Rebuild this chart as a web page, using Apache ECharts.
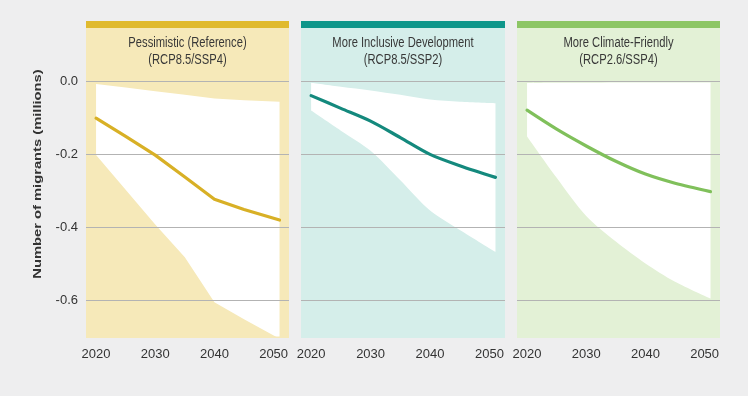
<!DOCTYPE html>
<html>
<head>
<meta charset="utf-8">
<script src="https://cdn.jsdelivr.net/npm/echarts@6/dist/echarts.min.js"></script>
<style>
  html, body { margin: 0; padding: 0; background: #eeeeef; }
  #chart { width: 748px; height: 396px; }
</style>
</head>
<body>
<div id="chart"></div>
<script>
// Projected change in number of migrants, three scenarios (millions)
const YEARS = [2020, 2025, 2030, 2035, 2040, 2045, 2051];
const X_TICKS = [2020, 2030, 2040, 2050];
const Y_TICKS = [0, -0.2, -0.4, -0.6];
const Y_TITLE = 'Number of migrants (millions)';

const PANEL_TITLES = ['Pessimistic (Reference)', 'More Inclusive Development', 'More Climate-Friendly'];
const PANEL_SUBTITLES = ['(RCP8.5/SSP4)', '(RCP8.5/SSP2)', '(RCP2.6/SSP4)'];

// central estimate and upper / lower bounds of the range
const PESSIMISTIC_MID   = [-0.102, -0.152, -0.203, -0.263, -0.324, -0.352, -0.381];
const PESSIMISTIC_HIGH  = [-0.008, -0.018, -0.028, -0.038, -0.048, -0.053, -0.057];
const PESSIMISTIC_LOW   = [-0.203, -0.298, -0.393, -0.483, -0.606, -0.653, -0.706];

const INCLUSIVE_MID     = [-0.040, -0.075, -0.110, -0.155, -0.201, -0.232, -0.264];
const INCLUSIVE_HIGH    = [-0.005, -0.016, -0.026, -0.038, -0.051, -0.057, -0.061];
const INCLUSIVE_LOW     = [-0.081, -0.136, -0.191, -0.272, -0.355, -0.408, -0.468];

const CLIMATE_MID       = [-0.080, -0.132, -0.178, -0.220, -0.255, -0.280, -0.303];
const CLIMATE_HIGH      = [-0.006, -0.005, -0.005, -0.004, -0.004, -0.004, -0.004];
const CLIMATE_LOW       = [-0.152, -0.265, -0.370, -0.440, -0.500, -0.550, -0.596];

const MIDS  = [PESSIMISTIC_MID, INCLUSIVE_MID, CLIMATE_MID];
const HIGHS = [PESSIMISTIC_HIGH, INCLUSIVE_HIGH, CLIMATE_HIGH];
const LOWS  = [PESSIMISTIC_LOW, INCLUSIVE_LOW, CLIMATE_LOW];

// styling per panel
const STYLES = [
  { bar: '#e0ba2e', line: '#d8b026', pale: '#f6e9b9', smooth: false },
  { bar: '#0f968a', line: '#14897d', pale: '#d5eeea', smooth: 0.3 },
  { bar: '#8dc665', line: '#80c05b', pale: '#e3f1d6', smooth: 0.3 }
];

// layout
const PANEL_LEFT = [86, 301, 517];
const PANEL_WIDTH = [203, 204, 203];
const BAR_TOP = 21, BAR_H = 7;
const PLOT_TOP = 81, PLOT_H = 255.5, PANEL_BOTTOM = 338;
const X_MIN = 2018.3, X_MAX = 2052.6;
const SANS = '"Liberation Sans", Arial, sans-serif';
const TEXT_DARK = '#333333';

const chart = echarts.init(document.getElementById('chart'), null, { renderer: 'canvas' });

const grids = [], xAxes = [], yAxes = [], series = [], graphics = [];

// condensed header text: regular face squeezed horizontally
function headerText(str, cx, cy) {
  return {
    type: 'text', silent: true, x: cx, y: cy, scaleX: 0.8,
    style: { text: str, fill: '#383838', font: '14px ' + SANS, align: 'center', verticalAlign: 'middle' }
  };
}

for (let i = 0; i < 3; i++) {
  const st = STYLES[i];
  const left = PANEL_LEFT[i], w = PANEL_WIDTH[i];

  // panel background and coloured header bar
  graphics.push({
    type: 'rect', z: -10, silent: true,
    shape: { x: left, y: BAR_TOP + BAR_H, width: w, height: PANEL_BOTTOM - BAR_TOP - BAR_H },
    style: { fill: st.pale }
  });
  graphics.push({
    type: 'rect', z: -9, silent: true,
    shape: { x: left, y: BAR_TOP, width: w, height: BAR_H },
    style: { fill: st.bar }
  });
  graphics.push(headerText(PANEL_TITLES[i], left + w / 2, 43.5));
  graphics.push(headerText(PANEL_SUBTITLES[i], left + w / 2, 60));

  grids.push({ left: left, width: w, top: PLOT_TOP, height: PLOT_H, containLabel: false });

  xAxes.push({
    type: 'value', gridIndex: i, min: X_MIN, max: X_MAX,
    axisLine: { show: false }, axisTick: { show: false }, splitLine: { show: false },
    axisLabel: {
      customValues: X_TICKS, margin: 11,
      color: TEXT_DARK, fontFamily: SANS, fontSize: 13,
      formatter: v => String(Math.round(v))
    }
  });

  yAxes.push({
    type: 'value', gridIndex: i, min: -0.7, max: 0,
    axisLine: { show: false }, axisTick: { show: false }, splitLine: { show: false },
    axisLabel: {
      show: i === 0, customValues: Y_TICKS, margin: 8,
      color: TEXT_DARK, fontFamily: SANS, fontSize: 13,
      formatter: v => v.toFixed(1)
    }
  });

  const low = LOWS[i], high = HIGHS[i];
  const stackId = 'range' + i;

  // range band: values come first in each row so the stack runs on the value dimension
  series.push({
    type: 'line', xAxisIndex: i, yAxisIndex: i, z: 1,
    stack: stackId, stackStrategy: 'all', encode: { x: 1, y: 0 },
    data: YEARS.map((y, k) => [low[k], y]), smooth: st.smooth, symbol: 'none', silent: true,
    lineStyle: { width: 0, opacity: 0 },
    markLine: {
      z: 3, silent: true, symbol: 'none', animation: false,
      label: { show: false },
      lineStyle: { color: '#b3b3b3', type: 'solid', width: 1 },
      data: Y_TICKS.map(v => ({ yAxis: v }))
    }
  });
  // white band between lower and upper bound
  series.push({
    type: 'line', xAxisIndex: i, yAxisIndex: i, z: 2,
    stack: stackId, stackStrategy: 'all', encode: { x: 1, y: 0 },
    data: YEARS.map((y, k) => [high[k] - low[k], y]), smooth: st.smooth, symbol: 'none', silent: true,
    lineStyle: { width: 0, opacity: 0 },
    areaStyle: { color: '#ffffff', opacity: 1 }
  });
  // central estimate
  series.push({
    type: 'line', xAxisIndex: i, yAxisIndex: i, z: 4,
    data: YEARS.map((y, k) => [y, MIDS[i][k]]), smooth: st.smooth, symbol: 'none', silent: true,
    lineStyle: { color: st.line, width: 3.2, cap: 'round', join: 'round' }
  });
}

// vertical axis title
graphics.push({
  type: 'text', silent: true, x: 38, y: 174, rotation: Math.PI / 2, scaleX: 1.28,
  style: { text: Y_TITLE, fill: TEXT_DARK, font: 'bold 11.5px ' + SANS, align: 'center', verticalAlign: 'middle' }
});

chart.setOption({
  backgroundColor: '#eeeeef',
  animation: false,
  grid: grids,
  xAxis: xAxes,
  yAxis: yAxes,
  series: series,
  graphic: graphics
});
</script>
</body>
</html>
